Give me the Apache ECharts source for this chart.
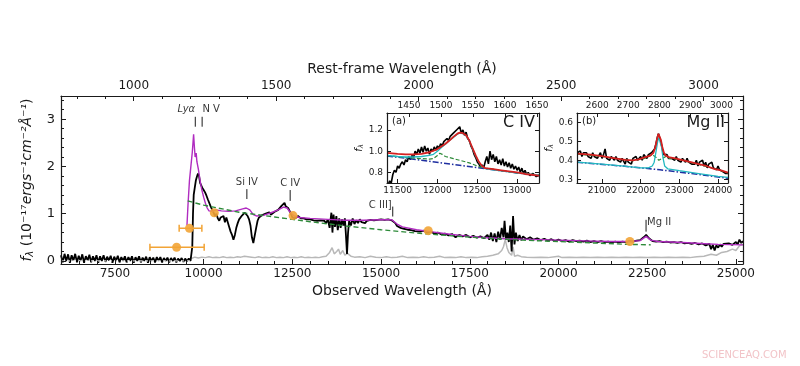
<!DOCTYPE html>
<html><head><meta charset="utf-8">
<script src="https://cdn.jsdelivr.net/npm/echarts@6/dist/echarts.min.js"></script>
<style>html,body{margin:0;padding:0;background:#fff}#c{width:800px;height:366px}</style>
</head><body><div id="c"></div>
<script>
// ---------- data ----------
const onePlusZ = 8.03;
const obsRange = [5980, 25200];
const fluxRange = [-0.065, 3.49];
const obsTicks = [7500,10000,12500,15000,17500,20000,22500,25000];
const obsMinor = [6000,6500,7000,7500,8000,8500,9000,9500,10000,10500,11000,11500,12000,12500,13000,13500,14000,14500,15000,15500,16000,16500,17000,17500,18000,18500,19000,19500,20000,20500,21000,21500,22000,22500,23000,23500,24000,24500,25000];
const restTicks = [1000,1500,2000,2500,3000];
const restMinor = [800,900,1000,1100,1200,1300,1400,1500,1600,1700,1800,1900,2000,2100,2200,2300,2400,2500,2600,2700,2800,2900,3000,3100];
const fluxTicks = [0,1,2,3];
const fluxMinor = [0,0.2,0.4,0.6,0.8,1,1.2,1.4,1.6,1.8,2,2.2,2.4,2.6,2.8,3,3.2,3.4];

const spectrum = [
[5980,0.12],[6030,-0.03],[6080,0.15],[6130,0.0],[6180,0.14],[6230,-0.04],[6280,0.12],[6330,0.01],[6380,0.15],[6430,-0.03],[6480,0.11],[6530,0.0],[6580,0.14],[6630,-0.04],[6680,0.1],[6730,0.01],[6780,0.13],[6830,-0.03],[6880,0.1],[6930,0.0],[6980,0.12],[7030,-0.04],[7080,0.1],[7130,0.0],[7180,0.12],[7230,-0.02],[7280,0.09],[7330,0.01],[7380,0.11],[7430,-0.04],[7480,0.09],[7530,0.0],[7580,0.11],[7630,-0.03],[7680,0.08],[7730,0.0],[7780,0.1],[7830,-0.03],[7880,0.08],[7930,0.0],[7980,0.1],[8030,-0.04],[8080,0.08],[8130,0.0],[8180,0.1],[8230,-0.03],[8280,0.07],[8330,0.0],[8380,0.09],[8430,-0.04],[8480,0.08],[8530,0.0],[8580,0.07],[8630,-0.03],[8680,0.08],[8730,0.0],[8780,0.08],[8830,-0.03],[8880,0.06],[8930,0.0],[8980,0.07],[9030,-0.03],[9080,0.06],[9130,0.0],[9180,0.07],[9230,-0.03],[9280,0.05],[9330,0.0],[9380,0.06],[9430,-0.02],[9480,0.05],[9530,-0.01],[9580,0.05],[9630,0.0],
[9660,0.02],[9680,0.3],[9700,1.0],[9720,1.4],[9750,1.55],[9780,1.7],[9810,1.78],[9840,1.85],[9870,1.8],[9900,1.65],[9930,1.68],[9960,1.55],[10000,1.5],[10040,1.45],[10080,1.38],[10120,1.3],[10160,1.28],[10200,1.15],[10240,1.18],[10280,1.02],[10320,0.95],[10360,1.0],[10400,0.9],[10440,0.85],[10480,0.92],[10520,0.88],[10560,0.95],[10600,0.82],[10640,0.92],[10680,0.9],[10720,0.72],[10760,0.62],[10800,0.55],[10840,0.45],[10880,0.55],[10920,0.7],[10960,0.8],[11000,0.88],[11040,0.92],[11080,0.96],[11120,1.0],[11160,1.02],[11200,1.0],[11240,0.95],[11280,0.88],[11320,0.75],[11360,0.5],[11400,0.38],[11440,0.42],[11480,0.7],[11520,0.85],[11560,0.92],[11600,0.95],[11650,0.97],[11700,0.95],[11750,1.0],[11800,1.0],[11850,1.03],[11900,0.98],[11950,1.02],[12000,1.04],[12050,1.06],[12100,1.08],[12150,1.12],[12200,1.17],[12250,1.2],[12280,1.23],[12310,1.16],[12340,1.19],[12380,1.12],[12420,1.08],[12460,1.0],[12500,0.92],[12540,0.88],[12580,0.9],[12620,0.92],[12660,0.95],[12700,0.98],[12740,0.9],[12780,0.93],[12820,0.9],[12860,0.92],[12900,0.88],[12950,0.86],[13000,0.88],[13050,0.84],[13100,0.86],[13150,0.82],[13200,0.85],[13250,0.83],[13300,0.86],[13350,0.82],[13400,0.85],[13450,0.8],[13500,0.88],[13550,0.7],[13600,1.02],[13630,0.6],[13660,0.98],[13700,0.72],[13740,0.95],[13780,0.65],[13820,0.9],[13860,0.7],[13900,0.88],[13940,0.75],[13980,0.9],[14010,0.55],[14040,0.15],[14070,0.6],[14100,0.85],[14150,0.75],[14200,0.9],[14250,0.78],[14300,0.86],[14350,0.8],[14400,0.88],[14450,0.82],[14500,0.86],[14550,0.8],[14600,0.85],[14650,0.82],[14700,0.87],[14750,0.83],[14800,0.86],[14850,0.84],[14900,0.87],[14950,0.84],[15000,0.88],[15050,0.85],[15100,0.87],[15150,0.86],[15200,0.88],[15250,0.85],[15300,0.86],[15350,0.83],[15400,0.8],[15450,0.74],[15500,0.72],[15550,0.7],[15600,0.72],[15650,0.68],[15700,0.7],[15750,0.66],[15800,0.68],[15850,0.65],[15900,0.67],[15950,0.63],[16000,0.65],[16100,0.62],[16200,0.64],[16300,0.6],[16400,0.62],[16500,0.58],[16600,0.6],[16700,0.56],[16800,0.58],[16900,0.54],[17000,0.57],[17100,0.5],[17200,0.55],[17300,0.52],[17400,0.55],[17500,0.5],[17600,0.53],[17700,0.49],[17800,0.52],[17900,0.48],[18000,0.55],[18050,0.45],[18100,0.6],[18150,0.42],[18200,0.58],[18250,0.4],[18300,0.62],[18350,0.45],[18400,0.7],[18450,0.5],[18480,0.85],[18520,0.45],[18560,0.6],[18600,0.4],[18640,0.75],[18680,0.2],[18720,0.95],[18760,0.35],[18800,0.6],[18850,0.42],[18900,0.55],[18950,0.44],[19000,0.52],[19100,0.46],[19200,0.5],[19300,0.45],[19400,0.48],[19500,0.44],[19600,0.47],[19700,0.43],[19800,0.46],[19900,0.42],[20000,0.45],[20100,0.42],[20200,0.44],[20300,0.41],[20400,0.44],[20500,0.42],[20600,0.43],[20700,0.41],[20800,0.43],[20900,0.4],[21000,0.42],[21100,0.4],[21200,0.42],[21300,0.4],[21400,0.41],[21500,0.39],[21600,0.41],[21700,0.39],[21800,0.41],[21900,0.4],[22000,0.42],[22100,0.41],[22200,0.43],[22300,0.44],[22400,0.5],[22470,0.55],[22550,0.48],[22650,0.42],[22750,0.41],[22850,0.42],[22950,0.4],[23050,0.41],[23150,0.39],[23250,0.4],[23350,0.38],[23450,0.4],[23550,0.37],[23650,0.38],[23750,0.36],[23850,0.38],[23950,0.35],[24050,0.37],[24150,0.33],[24250,0.36],[24300,0.25],[24350,0.34],[24400,0.22],[24450,0.33],[24500,0.28],[24550,0.35],[24600,0.3],[24650,0.36],[24700,0.32],[24800,0.37],[24900,0.34],[25000,0.4],[25050,0.35],[25100,0.45],[25150,0.38],[25200,0.42]
];
const zeroLine = [[5980,0],[9650,0]];

const errorSpec = [
[9650,0.05],[9750,0.08],[9850,0.06],[9950,0.08],[10050,0.07],[10150,0.09],[10250,0.07],[10350,0.08],[10450,0.07],[10550,0.09],[10650,0.07],[10750,0.08],[10850,0.07],[10950,0.09],[11050,0.08],[11150,0.1],[11200,0.13],[11250,0.09],[11350,0.08],[11450,0.07],[11550,0.09],[11650,0.07],[11750,0.08],[11850,0.07],[11950,0.09],[12050,0.07],[12150,0.08],[12250,0.07],[12350,0.09],[12450,0.07],[12550,0.08],[12650,0.07],[12750,0.09],[12850,0.07],[12950,0.08],[13050,0.07],[13150,0.08],[13250,0.07],[13350,0.09],[13450,0.1],[13550,0.18],[13620,0.28],[13680,0.15],[13750,0.2],[13800,0.25],[13850,0.14],[13920,0.22],[13980,0.12],[14050,0.16],[14150,0.1],[14250,0.08],[14400,0.09],[14550,0.07],[14700,0.1],[14850,0.08],[15000,0.07],[15150,0.09],[15300,0.07],[15450,0.08],[15600,0.1],[15750,0.07],[15900,0.08],[16050,0.07],[16200,0.09],[16350,0.07],[16500,0.08],[16650,0.1],[16800,0.07],[16950,0.08],[17100,0.07],[17250,0.09],[17400,0.07],[17550,0.08],[17700,0.07],[17850,0.09],[18000,0.1],[18150,0.12],[18300,0.15],[18400,0.22],[18450,0.3],[18500,0.45],[18550,0.28],[18600,0.18],[18680,0.12],[18720,0.3],[18760,0.1],[18850,0.12],[18950,0.09],[19100,0.08],[19300,0.07],[19500,0.08],[19700,0.07],[19900,0.09],[20000,0.1],[20100,0.07],[20300,0.08],[20500,0.07],[20700,0.08],[20900,0.07],[21100,0.08],[21300,0.07],[21500,0.08],[21700,0.07],[21900,0.08],[22100,0.07],[22300,0.08],[22500,0.07],[22700,0.08],[22900,0.07],[23100,0.08],[23300,0.07],[23500,0.08],[23700,0.07],[23900,0.09],[24100,0.1],[24300,0.14],[24450,0.12],[24600,0.18],[24750,0.2],[24900,0.25],[25000,0.22],[25100,0.32],[25200,0.35]
];

const template = [
[9530,0.75],[9560,1.2],[9600,1.7],[9640,2.0],[9680,2.3],[9700,2.5],[9717,2.68],[9740,2.4],[9760,2.2],[9790,2.28],[9810,2.1],[9850,1.95],[9900,1.7],[9950,1.5],[10000,1.35],[10050,1.22],[10100,1.12],[10150,1.06],[10250,1.05],[10350,1.08],[10500,1.06],[10700,1.05],[10900,1.06],[11100,1.1],[11200,1.12],[11300,1.08],[11400,0.98],[11500,0.95],[11700,0.97],[11900,1.02],[12100,1.08],[12250,1.14],[12350,1.12],[12450,1.02],[12550,0.95],[12700,0.92],[13000,0.9],[13500,0.88],[14000,0.86],[14500,0.86],[15000,0.87],[15300,0.87],[15450,0.78],[15600,0.72],[16000,0.66],[16500,0.61],[17000,0.56],[17500,0.52],[18000,0.49],[18500,0.47],[19000,0.46],[19500,0.45],[20000,0.44],[20500,0.43],[21000,0.42],[21500,0.41],[22000,0.41],[22300,0.43],[22470,0.52],[22600,0.44],[22800,0.41],[23500,0.39],[24000,0.37],[24500,0.35],[25200,0.34]
];

const powerLaw = [
[9550,1.27],[10000,1.18],[11000,1.03],[12000,0.93],[12500,0.88],[13000,0.83],[14000,0.74],[15000,0.66],[16000,0.59],[17000,0.53],[18000,0.48],[19000,0.44],[20000,0.41],[21000,0.38],[22000,0.35],[22600,0.34]
];

// photometry: wavelength, flux, low, high
const photX = [9238, 9600, 10300, 12520, 16330, 22010];
const photY = [0.29, 0.69, 1.02, 0.96, 0.64, 0.41];
const photLo = [8486, 9310, null, null, null, null];
const photHi = [10015, 9950, null, null, null, null];

// emission line markers
const lineNames = ['Lyα','N V','Si IV','C IV','C III]','Mg II'];
const lineRest = [1216, 1240, 1397, 1549, 1909, 2798];
const lineTickTop = [3.05, 3.05, 1.52, 1.50, 1.15, 0.87];
const lineTickBot = [2.84, 2.84, 1.31, 1.27, 0.94, 0.62];

// inset (a) C IV
const aRange = [11367, 13275];
const aFlux = [0.7, 1.36];
const aObsTicks = [11500,12000,12500,13000];
const aRestTicks = [1450,1500,1550,1600,1650];
const aFluxTicks = [0.8,1.0,1.2];
const aData = [
[11380,0.68],[11400,0.72],[11420,0.7],[11440,0.78],[11460,0.82],[11480,0.8],[11500,0.86],[11520,0.84],[11540,0.88],[11560,0.9],[11580,0.87],[11600,0.92],[11620,0.9],[11640,0.95],[11660,0.92],[11680,0.96],[11700,0.94],[11720,1.0],[11740,0.97],[11760,1.02],[11780,0.98],[11800,1.04],[11820,0.99],[11840,1.05],[11860,1.0],[11880,1.03],[11900,0.97],[11920,1.02],[11940,1.0],[11960,1.04],[11980,1.01],[12000,1.05],[12020,1.03],[12040,1.07],[12060,1.05],[12080,1.09],[12100,1.08],[12120,1.12],[12140,1.1],[12160,1.14],[12180,1.13],[12200,1.17],[12220,1.16],[12240,1.2],[12260,1.19],[12280,1.23],[12300,1.17],[12320,1.2],[12340,1.15],[12360,1.18],[12380,1.12],[12400,1.1],[12420,1.05],[12440,1.02],[12460,0.97],[12480,0.94],[12500,0.9],[12520,0.88],[12540,0.85],[12560,0.87],[12580,0.84],[12600,0.9],[12620,0.95],[12640,0.88],[12660,1.0],[12680,0.92],[12700,0.97],[12720,0.9],[12740,0.95],[12760,0.88],[12780,0.92],[12800,0.87],[12820,0.93],[12840,0.86],[12860,0.9],[12880,0.85],[12900,0.89],[12920,0.84],[12940,0.88],[12960,0.83],[12980,0.86],[13000,0.82],[13020,0.85],[13040,0.8],[13060,0.84],[13080,0.79],[13100,0.82],[13120,0.78],[13140,0.8],[13160,0.77],[13200,0.79],[13240,0.76],[13270,0.77]
];
const aFit = [[11367,0.985],[11500,0.975],[11600,0.97],[11700,0.97],[11800,0.975],[11900,0.99],[12000,1.02],[12050,1.045],[12100,1.07],[12150,1.1],[12200,1.135],[12250,1.165],[12280,1.175],[12320,1.17],[12360,1.15],[12400,1.1],[12440,1.03],[12480,0.96],[12520,0.9],[12560,0.86],[12600,0.84],[12700,0.83],[12800,0.82],[12900,0.81],[13000,0.8],[13100,0.785],[13275,0.77]];
const aBroad = [[11367,0.96],[11500,0.95],[11600,0.945],[11700,0.945],[11800,0.95],[11900,0.96],[11950,0.97],[12000,1.0],[12050,1.035],[12100,1.065],[12150,1.1],[12200,1.13],[12250,1.16],[12280,1.17],[12320,1.165],[12360,1.145],[12400,1.095],[12440,1.025],[12480,0.955],[12520,0.895],[12560,0.855],[12600,0.835],[12700,0.825],[12800,0.815],[13000,0.795],[13275,0.775]];
const aOther = [[11367,0.96],[11600,0.94],[11800,0.93],[11900,0.925],[11950,0.93],[12000,0.96],[12030,0.98],[12060,0.97],[12100,0.95],[12200,0.93],[12300,0.91],[12400,0.89],[12500,0.86],[12600,0.84],[12700,0.83],[12800,0.815],[13000,0.795],[13275,0.775]];
const aCont = [[11367,0.955],[11800,0.915],[12200,0.875],[12600,0.835],[13000,0.795],[13275,0.77]];

// inset (b) Mg II
const bRange = [20354, 24258];
const bFlux = [0.28, 0.65];
const bObsTicks = [21000,22000,23000,24000];
const bRestTicks = [2600,2700,2800,2900,3000];
const bFluxTicks = [0.3,0.4,0.5,0.6];
const bData = [
[20360,0.44],[20400,0.43],[20440,0.45],[20480,0.42],[20520,0.44],[20560,0.43],[20600,0.44],[20640,0.42],[20680,0.43],[20720,0.41],[20760,0.44],[20800,0.42],[20840,0.43],[20880,0.41],[20920,0.42],[20960,0.44],[21000,0.41],[21040,0.43],[21080,0.46],[21120,0.41],[21160,0.42],[21200,0.4],[21240,0.42],[21280,0.41],[21320,0.4],[21360,0.42],[21400,0.4],[21440,0.41],[21480,0.39],[21520,0.41],[21560,0.4],[21600,0.38],[21640,0.41],[21680,0.39],[21720,0.4],[21760,0.38],[21800,0.41],[21840,0.4],[21880,0.42],[21920,0.4],[21960,0.41],[22000,0.42],[22040,0.4],[22080,0.43],[22120,0.42],[22160,0.41],[22200,0.43],[22240,0.42],[22280,0.44],[22320,0.43],[22360,0.46],[22400,0.49],[22430,0.52],[22460,0.54],[22490,0.53],[22520,0.5],[22560,0.46],[22600,0.43],[22640,0.42],[22680,0.43],[22720,0.41],[22760,0.42],[22800,0.41],[22840,0.42],[22880,0.4],[22920,0.42],[22960,0.4],[23000,0.41],[23040,0.39],[23080,0.41],[23120,0.4],[23160,0.39],[23200,0.41],[23240,0.39],[23280,0.4],[23320,0.38],[23360,0.39],[23400,0.38],[23440,0.4],[23480,0.37],[23520,0.39],[23560,0.38],[23600,0.4],[23640,0.37],[23680,0.39],[23720,0.36],[23760,0.38],[23800,0.37],[23840,0.39],[23880,0.36],[23920,0.37],[23960,0.35],[24000,0.37],[24040,0.35],[24080,0.36],[24120,0.34],[24160,0.35],[24200,0.33],[24240,0.34],[24258,0.33]
];
const bFit = [[20354,0.435],[20700,0.43],[21000,0.422],[21300,0.412],[21600,0.402],[21800,0.4],[21950,0.405],[22100,0.415],[22250,0.425],[22330,0.44],[22380,0.47],[22420,0.51],[22460,0.54],[22490,0.54],[22520,0.51],[22560,0.47],[22600,0.44],[22650,0.425],[22750,0.415],[22900,0.41],[23100,0.4],[23300,0.39],[23500,0.38],[23700,0.37],[23900,0.355],[24100,0.345],[24258,0.335]];
const bBroad = [[20354,0.39],[21000,0.38],[21500,0.37],[22000,0.36],[22200,0.36],[22300,0.37],[22350,0.39],[22400,0.45],[22440,0.5],[22470,0.52],[22500,0.51],[22540,0.47],[22580,0.41],[22620,0.37],[22700,0.355],[23000,0.345],[23500,0.33],[24000,0.315],[24258,0.31]];
const bOther = [[20354,0.433],[21000,0.42],[21500,0.405],[21800,0.398],[22100,0.41],[22300,0.43],[22400,0.415],[22470,0.4],[22560,0.41],[22650,0.42],[22750,0.41],[23000,0.405],[23500,0.378],[24000,0.35],[24258,0.333]];
const bCont = [[20354,0.39],[21500,0.37],[22500,0.35],[23500,0.325],[24258,0.305]];

// ---------- chart ----------
const FONT = 'DejaVu Sans';
const INK = '#1a1a1a';
function ax(p) {
  const a = {
    type: 'value', gridIndex: p.grid, position: p.pos, min: p.min, max: p.max,
    splitLine: {show: false},
    axisLine: {show: p.line !== false, onZero: false, lineStyle: {color: INK, width: 1.2}},
    axisTick: {show: true, inside: true, length: p.len || 5, customValues: p.ticks, lineStyle: {color: INK, width: 1}},
    axisLabel: {show: !!p.labels, customValues: p.labels || p.ticks, fontFamily: FONT, fontSize: p.fs || 12, color: INK, margin: p.margin || 4,
      formatter: p.fmt || (v => String(v))},
    z: 20
  };
  if (p.name) {
    a.name = p.name; a.nameLocation = 'middle'; a.nameGap = p.nameGap;
    a.nameTextStyle = Object.assign({fontFamily: FONT, fontSize: p.nfs || 14, color: INK}, p.nts || {});
  }
  return a;
}
const rest = v => v / onePlusZ;

const xAxes = [
  ax({grid:0,pos:'bottom',min:obsRange[0],max:obsRange[1],ticks:obsTicks,labels:obsTicks,len:5,name:'Observed Wavelength (Å)',nameGap:20}),
  ax({grid:0,pos:'bottom',min:obsRange[0],max:obsRange[1],ticks:obsMinor,len:3,line:false}),
  ax({grid:0,pos:'top',min:rest(obsRange[0]),max:rest(obsRange[1]),ticks:restTicks,labels:restTicks,len:5,name:'Rest-frame Wavelength (Å)',nameGap:20}),
  ax({grid:0,pos:'top',min:rest(obsRange[0]),max:rest(obsRange[1]),ticks:restMinor,len:3,line:false}),
  ax({grid:1,pos:'bottom',min:aRange[0],max:aRange[1],ticks:aObsTicks,labels:aObsTicks,len:4,fs:9,margin:3}),
  ax({grid:1,pos:'top',min:rest(aRange[0]),max:rest(aRange[1]),ticks:aRestTicks,labels:aRestTicks,len:4,fs:9,margin:3}),
  ax({grid:2,pos:'bottom',min:bRange[0],max:bRange[1],ticks:bObsTicks,labels:bObsTicks,len:4,fs:9,margin:3}),
  ax({grid:2,pos:'top',min:rest(bRange[0]),max:rest(bRange[1]),ticks:bRestTicks,labels:bRestTicks,len:4,fs:9,margin:3})
];
const yName = '{i|f}{s|λ} (10⁻¹⁷{i|ergs⁻¹cm⁻²Å⁻¹})';
const richY = {i:{fontStyle:'italic',fontFamily:FONT,fontSize:14,color:INK},s:{fontStyle:'italic',fontFamily:FONT,fontSize:10,color:INK,padding:[6,0,0,0]}};
const richYs = {i:{fontStyle:'italic',fontFamily:FONT,fontSize:10,color:INK},s:{fontStyle:'italic',fontFamily:FONT,fontSize:7,color:INK,padding:[4,0,0,0]}};
const yAxes = [
  ax({grid:0,pos:'left',min:fluxRange[0],max:fluxRange[1],ticks:fluxTicks,labels:fluxTicks,len:5,fs:13,margin:6,name:yName,nameGap:24,nts:{rich:richY}}),
  ax({grid:0,pos:'left',min:fluxRange[0],max:fluxRange[1],ticks:fluxMinor,len:3,line:false}),
  ax({grid:0,pos:'right',min:fluxRange[0],max:fluxRange[1],ticks:fluxTicks,len:5}),
  ax({grid:0,pos:'right',min:fluxRange[0],max:fluxRange[1],ticks:fluxMinor,len:3,line:false}),
  ax({grid:1,pos:'left',min:aFlux[0],max:aFlux[1],ticks:aFluxTicks,labels:aFluxTicks,len:4,fs:9,margin:4,fmt:v=>v.toFixed(1),name:'{i|f}{s|λ}',nameGap:19,nts:{rich:richYs}}),
  ax({grid:1,pos:'right',min:aFlux[0],max:aFlux[1],ticks:aFluxTicks,len:4}),
  ax({grid:2,pos:'left',min:bFlux[0],max:bFlux[1],ticks:bFluxTicks,labels:bFluxTicks,len:4,fs:9,margin:4,fmt:v=>v.toFixed(1),name:'{i|f}{s|λ}',nameGap:19,nts:{rich:richYs}}),
  ax({grid:2,pos:'right',min:bFlux[0],max:bFlux[1],ticks:bFluxTicks,len:4})
];

function lineS(data, xi, yi, color, width, type, z) {
  return {type:'line', data, xAxisIndex:xi, yAxisIndex:yi, showSymbol:false, symbol:'none', silent:true,
    lineStyle:{color, width, type: type || 'solid'}, z: z || 2, animation:false, clip:true};
}

const errData = [];
photX.forEach((x,i) => { if (photLo[i] != null) { errData.push([photLo[i], photY[i]], [photHi[i], photY[i]], ['-','-']); } });
const tickData = [];
lineRest.forEach((r,i) => { const o = r * onePlusZ; tickData.push([o, lineTickTop[i]], [o, lineTickBot[i]], ['-','-']); });
const labelPos = [
  {position:'top', distance:2, offset:[-9,0], fontStyle:'italic'},
  {position:'top', distance:2, offset:[9,0]},
  {position:'top', distance:2, offset:[0,0]},
  {position:'top', distance:2, offset:[0,0]},
  {position:'left', distance:1, offset:[0,-1]},
  {position:'right', distance:1, offset:[0,3]}
];
const labelData = lineRest.map((r,i) => ({value:[r*onePlusZ, lineTickTop[i]], name: lineNames[i],
  label: Object.assign({show:true, formatter: lineNames[i], fontFamily:FONT, fontSize:10, color:'#000'}, labelPos[i])}));

const ORANGE = '#f2a436';
const series = [
  lineS(errorSpec, 0, 0, '#b8b8b8', 1.5, 'solid', 1),
  lineS(spectrum, 0, 0, '#000000', 1.8, 'solid', 2),
  lineS(zeroLine, 0, 0, '#ffffff', 1, [3,3], 2),
  lineS(template, 0, 0, '#b02cc0', 1.4, 'solid', 3),
  lineS(powerLaw, 0, 0, '#2e8b3a', 1.4, [5,3], 4),
  {type:'line', data: errData, xAxisIndex:0, yAxisIndex:0, connectNulls:false, symbol:'rect', symbolSize:[1.5,7], showSymbol:true,
    itemStyle:{color:ORANGE}, lineStyle:{color:ORANGE, width:1.5}, z:5, animation:false, silent:true},
  {type:'scatter', data: photX.map((x,i)=>[x, photY[i]]), xAxisIndex:0, yAxisIndex:0, symbolSize:9,
    itemStyle:{color:ORANGE, opacity:0.9}, z:6, animation:false, silent:true},
  {type:'line', data: tickData, xAxisIndex:0, yAxisIndex:0, connectNulls:false, symbol:'none',
    lineStyle:{color:INK, width:1}, z:5, animation:false, silent:true},
  {type:'scatter', data: labelData, xAxisIndex:0, yAxisIndex:0, symbolSize:0, z:6, animation:false, silent:true},
  // inset a
  lineS(aData, 4, 4, '#000000', 1.6, 'solid', 11),
  lineS(aCont, 4, 4, '#1f2fa0', 1.5, [6,2,1.5,2], 12),
  lineS(aOther, 4, 4, '#2e8b3a', 1.2, [4,2], 12),
  lineS(aBroad, 4, 4, '#22b8c0', 1.3, 'solid', 13),
  lineS(aFit, 4, 4, '#d42020', 1.8, 'solid', 14),
  // inset b
  lineS(bData, 6, 6, '#000000', 1.6, 'solid', 11),
  lineS(bCont, 6, 6, '#1f2fa0', 1.5, [6,2,1.5,2], 12),
  lineS(bOther, 6, 6, '#2e8b3a', 1.2, [4,2], 12),
  lineS(bBroad, 6, 6, '#22b8c0', 1.3, 'solid', 13),
  lineS(bFit, 6, 6, '#d42020', 1.8, 'solid', 14)
];

const chart = echarts.init(document.getElementById('c'), null, {renderer:'canvas'});
chart.setOption({
  animation:false,
  backgroundColor:'#ffffff',
  grid:[
    {left:61, top:96, width:682, height:168},
    {left:387, top:113, width:152, height:70, show:true, backgroundColor:'#ffffff', borderWidth:0},
    {left:577, top:113, width:151, height:70, show:true, backgroundColor:'#ffffff', borderWidth:0}
  ],
  xAxis: xAxes,
  yAxis: yAxes,
  series,
  graphic:[
    {type:'text', left:392, top:116, style:{text:'(a)', font:'10px "DejaVu Sans"', fill:INK}, z:30},
    {type:'text', right:800-535, top:115, style:{text:'C IV', font:'16px "DejaVu Sans"', fill:INK}, z:30},
    {type:'text', left:582, top:116, style:{text:'(b)', font:'10px "DejaVu Sans"', fill:INK}, z:30},
    {type:'text', right:800-725, top:115, style:{text:'Mg II', font:'16px "DejaVu Sans"', fill:INK}, z:30},
    {type:'text', left:702, top:350, style:{text:'SCIENCEAQ.COM', font:'10px "DejaVu Sans"', fill:'#f2c4c8'}, z:30}
  ]
});
</script></body></html>
